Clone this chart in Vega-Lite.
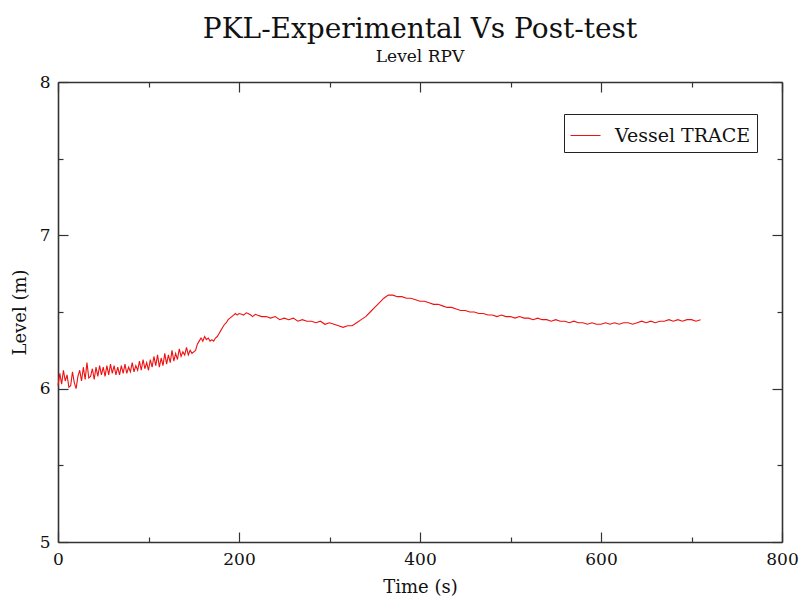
{
  "$schema": "https://vega.github.io/schema/vega-lite/v6.json",
  "width": 724,
  "height": 460,
  "autosize": "none",
  "padding": {"left": 58, "top": 82, "right": 17, "bottom": 54},
  "background": "white",
  "title": {
    "text": "PKL-Experimental Vs Post-test",
    "subtitle": "Level RPV",
    "font": "DejaVu Serif",
    "fontSize": 28,
    "fontWeight": "normal",
    "color": "#111111",
    "subtitleFont": "DejaVu Serif",
    "subtitleFontSize": 17,
    "subtitleColor": "#111111",
    "subtitlePadding": 5,
    "offset": 8,
    "anchor": "middle"
  },
  "data": {
    "values": [
      {"t":0,"level":6.02},{"t":2,"level":6.10},{"t":4,"level":6.03},{"t":6,"level":6.12},{"t":8,"level":6.05},{"t":10,"level":6.09},{"t":12,"level":6.01},{"t":14,"level":6.02},{"t":16,"level":6.11},{"t":18,"level":6.04},{"t":20,"level":6.00},{"t":22,"level":6.08},{"t":24,"level":6.12},{"t":26,"level":6.05},{"t":28,"level":6.14},{"t":30,"level":6.06},{"t":32,"level":6.17},{"t":34,"level":6.07},{"t":36,"level":6.08},{"t":38,"level":6.13},{"t":40,"level":6.06},{"t":42,"level":6.14},{"t":44,"level":6.08},{"t":46,"level":6.15},{"t":48,"level":6.09},{"t":50,"level":6.14},{"t":52,"level":6.08},{"t":54,"level":6.15},{"t":56,"level":6.09},{"t":58,"level":6.16},{"t":60,"level":6.10},{"t":62,"level":6.15},{"t":64,"level":6.09},{"t":66,"level":6.14},{"t":68,"level":6.09},{"t":70,"level":6.15},{"t":72,"level":6.10},{"t":74,"level":6.16},{"t":76,"level":6.10},{"t":78,"level":6.14},{"t":80,"level":6.11},{"t":82,"level":6.17},{"t":84,"level":6.11},{"t":86,"level":6.15},{"t":88,"level":6.12},{"t":90,"level":6.18},{"t":92,"level":6.12},{"t":94,"level":6.19},{"t":96,"level":6.13},{"t":98,"level":6.17},{"t":100,"level":6.12},{"t":102,"level":6.19},{"t":104,"level":6.14},{"t":106,"level":6.21},{"t":108,"level":6.15},{"t":110,"level":6.22},{"t":112,"level":6.14},{"t":114,"level":6.20},{"t":116,"level":6.15},{"t":118,"level":6.23},{"t":120,"level":6.16},{"t":122,"level":6.22},{"t":124,"level":6.17},{"t":126,"level":6.25},{"t":128,"level":6.18},{"t":130,"level":6.23},{"t":132,"level":6.19},{"t":134,"level":6.26},{"t":136,"level":6.21},{"t":138,"level":6.24},{"t":140,"level":6.22},{"t":142,"level":6.27},{"t":144,"level":6.22},{"t":146,"level":6.25},{"t":148,"level":6.23},{"t":150,"level":6.24},{"t":152,"level":6.25},{"t":154,"level":6.29},{"t":156,"level":6.31},{"t":158,"level":6.33},{"t":160,"level":6.31},{"t":162,"level":6.34},{"t":164,"level":6.32},{"t":166,"level":6.33},{"t":168,"level":6.31},{"t":170,"level":6.32},{"t":172,"level":6.31},{"t":174,"level":6.33},{"t":176,"level":6.34},{"t":178,"level":6.36},{"t":180,"level":6.38},{"t":182,"level":6.40},{"t":184,"level":6.42},{"t":186,"level":6.43},{"t":188,"level":6.45},{"t":190,"level":6.46},{"t":192,"level":6.47},{"t":194,"level":6.48},{"t":196,"level":6.49},{"t":198,"level":6.48},
      {"t":200,"level":6.49},{"t":203,"level":6.485},{"t":205,"level":6.48},{"t":208,"level":6.495},{"t":210,"level":6.49},{"t":213,"level":6.48},{"t":215,"level":6.47},{"t":218,"level":6.485},{"t":220,"level":6.48},{"t":225,"level":6.47},{"t":230,"level":6.47},{"t":235,"level":6.46},{"t":240,"level":6.47},{"t":245,"level":6.45},{"t":250,"level":6.46},{"t":255,"level":6.45},{"t":260,"level":6.46},{"t":265,"level":6.44},{"t":270,"level":6.45},{"t":275,"level":6.44},{"t":280,"level":6.44},{"t":285,"level":6.43},{"t":290,"level":6.44},{"t":295,"level":6.42},{"t":300,"level":6.43},{"t":305,"level":6.42},{"t":310,"level":6.41},{"t":315,"level":6.40},{"t":320,"level":6.41},{"t":325,"level":6.41},{"t":330,"level":6.43},{"t":335,"level":6.45},{"t":340,"level":6.47},{"t":345,"level":6.50},{"t":350,"level":6.53},{"t":355,"level":6.56},{"t":360,"level":6.59},{"t":365,"level":6.61},{"t":370,"level":6.61},{"t":375,"level":6.60},{"t":380,"level":6.60},{"t":385,"level":6.59},{"t":390,"level":6.59},{"t":395,"level":6.58},{"t":400,"level":6.57},{"t":405,"level":6.57},{"t":410,"level":6.56},{"t":415,"level":6.55},{"t":420,"level":6.55},{"t":425,"level":6.54},{"t":430,"level":6.53},{"t":435,"level":6.53},{"t":440,"level":6.52},{"t":445,"level":6.51},{"t":450,"level":6.51},{"t":455,"level":6.50},{"t":460,"level":6.50},{"t":465,"level":6.49},{"t":470,"level":6.49},{"t":475,"level":6.48},{"t":480,"level":6.48},{"t":485,"level":6.47},{"t":490,"level":6.48},{"t":495,"level":6.47},{"t":500,"level":6.47},{"t":505,"level":6.46},{"t":510,"level":6.47},{"t":515,"level":6.46},{"t":520,"level":6.46},{"t":525,"level":6.45},{"t":530,"level":6.46},{"t":535,"level":6.45},{"t":540,"level":6.45},{"t":545,"level":6.44},{"t":550,"level":6.45},{"t":555,"level":6.44},{"t":560,"level":6.44},{"t":565,"level":6.43},{"t":570,"level":6.44},{"t":575,"level":6.43},{"t":580,"level":6.43},{"t":585,"level":6.42},{"t":590,"level":6.43},{"t":595,"level":6.42},{"t":600,"level":6.42},{"t":605,"level":6.43},{"t":610,"level":6.42},{"t":615,"level":6.43},{"t":620,"level":6.42},{"t":625,"level":6.43},{"t":630,"level":6.43},{"t":635,"level":6.42},{"t":640,"level":6.43},{"t":645,"level":6.44},{"t":650,"level":6.43},{"t":655,"level":6.44},{"t":660,"level":6.43},{"t":665,"level":6.44},{"t":670,"level":6.44},{"t":675,"level":6.45},{"t":680,"level":6.44},{"t":685,"level":6.45},{"t":690,"level":6.44},{"t":695,"level":6.45},{"t":700,"level":6.45},{"t":705,"level":6.44},{"t":710,"level":6.45}
    ]
  },
  "layer": [
    {
      "mark": {"type": "line", "strokeWidth": 1.1},
      "encoding": {
        "x": {
          "field": "t", "type": "quantitative",
          "scale": {"domain": [0, 800], "nice": false},
          "axis": {
            "orient": "bottom",
            "values": [0, 100, 200, 300, 400, 500, 600, 700, 800],
            "tickSize": {"condition": {"test": "datum.value % 200 === 0", "value": -10}, "value": -5},
            "labelExpr": "datum.value % 200 === 0 ? datum.label : ''",
            "labelPadding": 19,
            "labelOverlap": false,
            "labelFlush": false,
            "title": "Time (s)",
            "titlePadding": 6
          }
        },
        "y": {
          "field": "level", "type": "quantitative",
          "scale": {"domain": [5, 8], "nice": false, "zero": false},
          "axis": {
            "orient": "left",
            "values": [5, 5.5, 6, 6.5, 7, 7.5, 8],
            "tickSize": {"condition": {"test": "datum.value % 1 === 0", "value": -10}, "value": -5},
            "labelExpr": "datum.value % 1 === 0 ? format(datum.value, 'd') : ''",
            "labelPadding": 18,
            "labelOverlap": false,
            "labelFlush": false,
            "title": "Level (m)",
            "titlePadding": 10
          }
        },
        "color": {
          "datum": "Vessel TRACE",
          "scale": {"range": ["#ee1111"]},
          "legend": {
            "orient": "none",
            "legendX": 506,
            "legendY": 32,
            "title": null,
            "symbolType": "stroke",
            "symbolSize": 900,
            "symbolStrokeWidth": 1,
            "labelFont": "DejaVu Serif",
            "labelFontSize": 19,
            "labelColor": "#111111",
            "labelOffset": 14,
            "strokeColor": "#222222",
            "fillColor": "white",
            "padding": 6
          }
        }
      }
    },
    {
      "mark": {"type": "line", "strokeOpacity": 0},
      "encoding": {
        "x": {
          "field": "t", "type": "quantitative",
          "axis": {
            "orient": "top",
            "values": [0, 100, 200, 300, 400, 500, 600, 700, 800],
            "tickSize": {"condition": {"test": "datum.value % 200 === 0", "value": -10}, "value": -5},
            "labels": false,
            "title": null
          }
        },
        "y": {
          "field": "level", "type": "quantitative",
          "axis": {
            "orient": "right",
            "values": [5, 5.5, 6, 6.5, 7, 7.5, 8],
            "tickSize": {"condition": {"test": "datum.value % 1 === 0", "value": -10}, "value": -5},
            "labels": false,
            "title": null
          }
        }
      }
    }
  ],
  "resolve": {"axis": {"x": "independent", "y": "independent"}},
  "config": {
    "view": {"stroke": null},
    "axis": {
      "grid": false,
      "domainColor": "#333333",
      "domainWidth": 1.6,
      "tickColor": "#333333",
      "tickWidth": 1.2,
      "labelFont": "DejaVu Serif",
      "labelFontSize": 17,
      "labelColor": "#111111",
      "titleFont": "DejaVu Serif",
      "titleFontSize": 18,
      "titleFontWeight": "normal",
      "titleColor": "#111111"
    }
  }
}
